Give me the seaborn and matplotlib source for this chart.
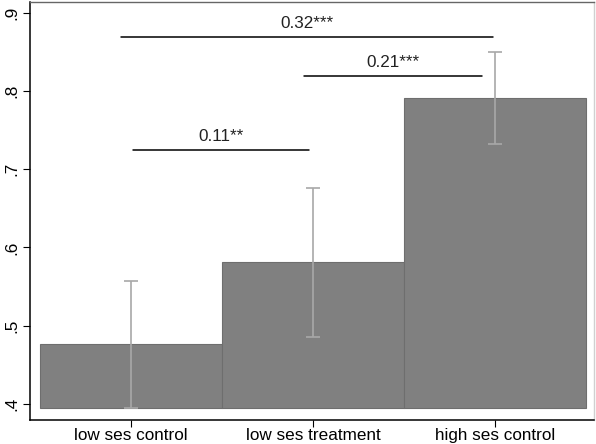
import matplotlib
matplotlib.use("Agg")
import matplotlib.pyplot as plt
import seaborn as sns
import pandas as pd

# group means and 95% confidence bounds
groups = ["low ses control", "low ses treatment", "high ses control"]
means = [0.476, 0.581, 0.791]
ci_low = [0.395, 0.486, 0.732]
ci_high = [0.557, 0.676, 0.850]

# pairwise differences drawn as brackets above the bars
diff_labels = ["0.11**", "0.21***", "0.32***"]
diff_from = [0.01, 0.95, -0.055]
diff_to = [0.98, 1.93, 1.99]
diff_level = [0.725, 0.819, 0.869]

y_ticks = [0.4, 0.5, 0.6, 0.7, 0.8, 0.9]
y_tick_labels = [".4", ".5", ".6", ".7", ".8", ".9"]

sns.set_style("white")
plt.rcParams["font.family"] = ["Liberation Sans", "DejaVu Sans"]

df = pd.DataFrame({"group": groups, "mean": means})

fig = plt.figure(figsize=(5.96, 4.44), dpi=100)
ax = fig.add_axes([30 / 596, 24 / 444, 564 / 596, 418 / 444])

base = ci_low[0]
sns.barplot(data=df.assign(height=df["mean"] - base), x="group", y="height",
            bottom=base, width=1.0, color="#808080", saturation=1,
            edgecolor="#6e6e6e", linewidth=0.8, errorbar=None, ax=ax)

err_lo = [m - lo for m, lo in zip(means, ci_low)]
err_hi = [hi - m for m, hi in zip(means, ci_high)]
ax.errorbar(range(len(groups)), means, yerr=[err_lo, err_hi], fmt="none",
            ecolor="#a8a8a8", elinewidth=1.2, capsize=5, capthick=1.2, zorder=3)

for lab, x0, x1, y in zip(diff_labels, diff_from, diff_to, diff_level):
    ax.plot([x0, x1], [y, y], color="black", linewidth=1.1, zorder=4)
    ax.text((x0 + x1) / 2, y + 0.007, lab, ha="center", va="bottom",
            fontsize=12.3, color="#222222")

ax.set_xlim(-0.555, 2.544)
ax.set_ylim(0.3795, 0.9135)
ax.set_yticks(y_ticks)
ax.set_yticklabels(y_tick_labels, rotation=90, va="center", fontsize=12.3)
ax.tick_params(axis="x", labelsize=12.3, length=5, width=0.8, colors="black", pad=1)
ax.tick_params(axis="y", length=5, width=0.8, colors="black", pad=3)
ax.tick_params(left=True, bottom=True)
ax.set_xlabel("")
ax.set_ylabel("")

for side in ["left", "bottom"]:
    ax.spines[side].set_color("black")
    ax.spines[side].set_linewidth(1.1)
ax.spines["top"].set_color("#666666")
ax.spines["top"].set_linewidth(1.0)
ax.spines["right"].set_color("#d0d0d0")
ax.spines["right"].set_linewidth(1.0)

fig.savefig("out.png", dpi=100)
